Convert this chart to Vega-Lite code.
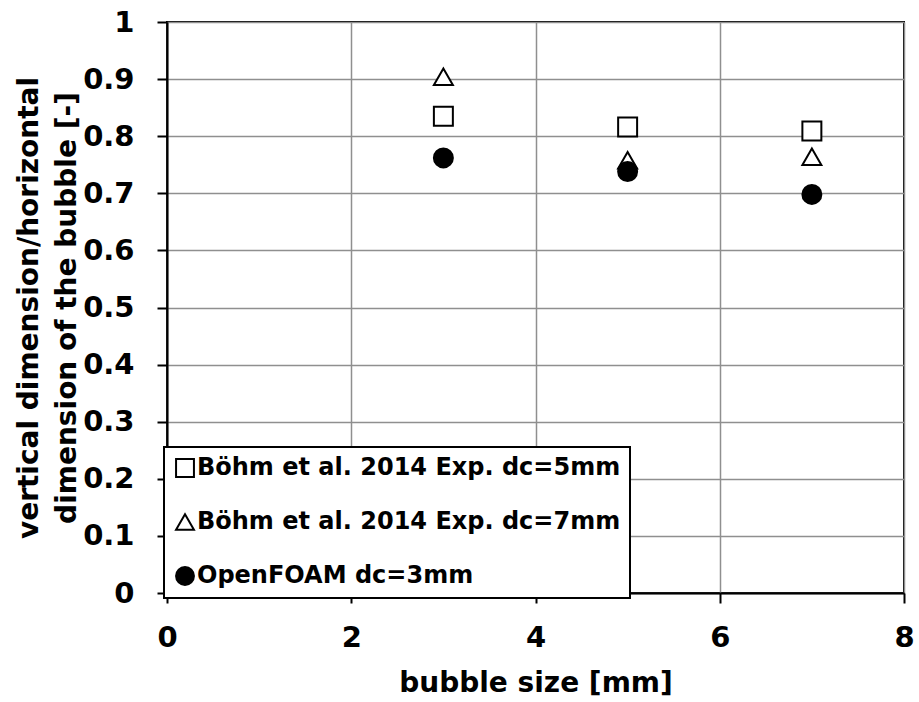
{
  "$schema": "https://vega.github.io/schema/vega-lite/v6.json",
  "width": 737,
  "height": 571,
  "autosize": "none",
  "padding": {"left": 167, "top": 22, "right": 15, "bottom": 109},
  "background": "white",
  "config": {
    "font": "DejaVu Sans",
    "view": {"stroke": "black", "strokeWidth": 2}
  },
  "data": {
    "values": [
      {"size": 3, "ratio": 0.835, "series": "Böhm et al. 2014 Exp. dc=5mm"},
      {"size": 5, "ratio": 0.816, "series": "Böhm et al. 2014 Exp. dc=5mm"},
      {"size": 7, "ratio": 0.809, "series": "Böhm et al. 2014 Exp. dc=5mm"},
      {"size": 3, "ratio": 0.904, "series": "Böhm et al. 2014 Exp. dc=7mm"},
      {"size": 5, "ratio": 0.758, "series": "Böhm et al. 2014 Exp. dc=7mm"},
      {"size": 7, "ratio": 0.764, "series": "Böhm et al. 2014 Exp. dc=7mm"},
      {"size": 3, "ratio": 0.762, "series": "OpenFOAM dc=3mm"},
      {"size": 5, "ratio": 0.738, "series": "OpenFOAM dc=3mm"},
      {"size": 7, "ratio": 0.698, "series": "OpenFOAM dc=3mm"}
    ]
  },
  "mark": {"type": "point", "filled": true, "stroke": "black", "strokeWidth": 2, "size": 360, "opacity": 1},
  "encoding": {
    "x": {
      "field": "size", "type": "quantitative",
      "scale": {"domain": [0, 8], "nice": false},
      "axis": {
        "title": "bubble size [mm]",
        "values": [0, 2, 4, 6, 8],
        "format": "d",
        "labelFlush": false,
        "grid": true, "gridColor": "#8f8f8f", "gridWidth": 1.5,
        "domainColor": "black", "domainWidth": 2,
        "tickColor": "black", "tickWidth": 2, "tickSize": 10,
        "labelFontSize": 29, "labelFontWeight": "bold", "labelColor": "black", "labelPadding": 20,
        "titleFontSize": 28, "titleFontWeight": "bold", "titleColor": "black", "titlePadding": 17
      }
    },
    "y": {
      "field": "ratio", "type": "quantitative",
      "scale": {"domain": [0, 1], "nice": false},
      "axis": {
        "title": ["vertical dimension/horizontal", "dimension of the bubble [-]"],
        "values": [0, 0.1, 0.2, 0.3, 0.4, 0.5, 0.6, 0.7, 0.8, 0.9, 1],
        "format": ".1~f",
        "labelFlush": false,
        "grid": true, "gridColor": "#8f8f8f", "gridWidth": 1.5,
        "domainColor": "black", "domainWidth": 2,
        "tickColor": "black", "tickWidth": 2, "tickSize": 10,
        "labelFontSize": 29, "labelFontWeight": "bold", "labelColor": "black", "labelPadding": 23,
        "titleFontSize": 28, "titleFontWeight": "bold", "titleColor": "black", "titlePadding": 1, "titleLineHeight": 38
      }
    },
    "fill": {
      "field": "series", "type": "nominal",
      "scale": {
        "domain": ["Böhm et al. 2014 Exp. dc=5mm", "Böhm et al. 2014 Exp. dc=7mm", "OpenFOAM dc=3mm"],
        "range": ["white", "white", "black"]
      },
      "legend": {
        "title": null,
        "orient": "none", "legendX": -3, "legendY": 425,
        "fillColor": "white", "strokeColor": "black", "cornerRadius": 0,
        "padding": 9, "rowPadding": 29,
        "labelFontSize": 24, "labelFontWeight": "bold", "labelColor": "black", "labelLimit": 0, "labelOffset": 0,
        "symbolSize": 320, "symbolStrokeColor": "black", "symbolStrokeWidth": 2, "symbolOpacity": 1,
        "encode": {"legend": {"update": {"strokeWidth": {"value": 2}}}}
      }
    },
    "shape": {
      "field": "series", "type": "nominal",
      "scale": {
        "domain": ["Böhm et al. 2014 Exp. dc=5mm", "Böhm et al. 2014 Exp. dc=7mm", "OpenFOAM dc=3mm"],
        "range": ["square", "triangle-up", "circle"]
      }
    }
  }
}
